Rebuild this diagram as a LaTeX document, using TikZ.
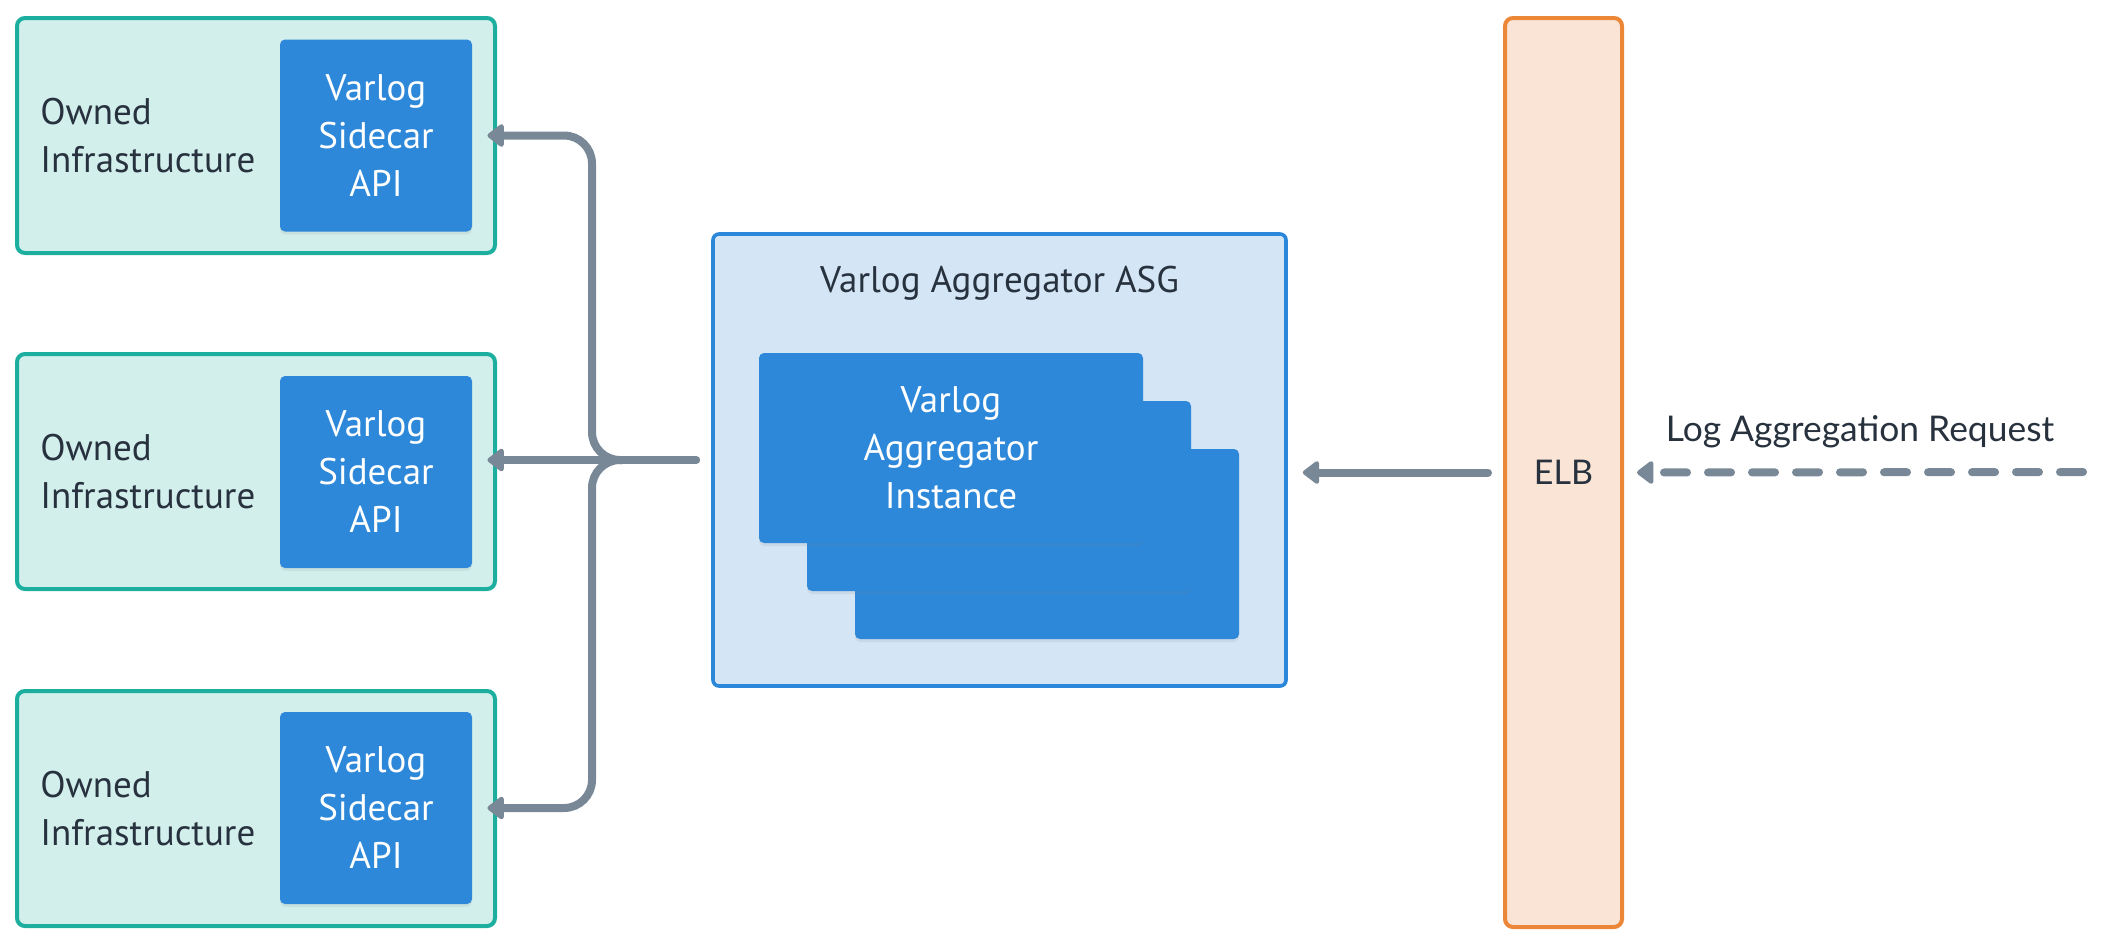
\documentclass[tikz,border=0pt]{standalone}
\usepackage{fontspec}
\setmainfont{PT Sans}
\newfontfamily\elbfont{Lato}
\usetikzlibrary{arrows.meta,shadows}

\definecolor{infrafill}{HTML}{D2EFEC}
\definecolor{infraline}{HTML}{1CAE9E}
\definecolor{apiblue}{HTML}{2D88D9}
\definecolor{asgfill}{HTML}{D4E5F5}
\definecolor{asgline}{HTML}{2B87DA}
\definecolor{elbfill}{HTML}{F9E4D6}
\definecolor{elbline}{HTML}{EB8737}
\definecolor{wire}{HTML}{788896}
\definecolor{ink}{HTML}{27323E}

\tikzset{
  infra/.style={draw=infraline, fill=infrafill, line width=2pt, rounded corners=4pt,
    minimum width=239pt, minimum height=117.5pt},
  api/.style={fill=apiblue, rounded corners=2.5pt, minimum width=96pt, minimum height=96pt,
    text=white, align=center, font=\fontsize{18.5}{24}\selectfont,
    drop shadow={opacity=0.12, shadow xshift=0pt, shadow yshift=-1.5pt}},
  inst/.style={fill=apiblue, rounded corners=2.5pt, minimum width=192pt, minimum height=95pt,
    text=white, align=center, font=\fontsize{18.5}{24}\selectfont,
    drop shadow={opacity=0.12, shadow xshift=0pt, shadow yshift=-1.5pt}},
  txt/.style={text=ink, font=\fontsize{18.5}{24}\selectfont},
  wire/.style={draw=wire, line width=4pt, line cap=round,
    -{Triangle[length=9pt, width=13pt, round]}},
}

\begin{document}
\begin{tikzpicture}[x=0.5pt, y=-0.5pt]
\useasboundingbox (0,0) rectangle (2104,944);

\node[infra] (infra1) at (256,135.5) {};
\node[infra] (infra2) at (256,471.5) {};
\node[infra] (infra3) at (256,808.5) {};
\node[txt, anchor=west, align=left, inner sep=0pt] (own1) at (40,136) {Owned\\Infrastructure};
\node[txt, anchor=west, align=left, inner sep=0pt] (own2) at (40,472) {Owned\\Infrastructure};
\node[txt, anchor=west, align=left, inner sep=0pt] (own3) at (40,809) {Owned\\Infrastructure};
\node[api] (api1) at (376,135.5) {Varlog\\Sidecar\\API};
\node[api] (api2) at (376,472) {Varlog\\Sidecar\\API};
\node[api] (api3) at (376,808) {Varlog\\Sidecar\\API};

\node[draw=asgline, fill=asgfill, line width=1.8pt, rounded corners=3pt,
  minimum width=286.5pt, minimum height=226pt] (asg) at (999.5,460) {};
\node[txt] (asgtitle) at (999.5,283) {Varlog Aggregator ASG};
\node[inst] (inst3) at (1047,544) {};
\node[inst] (inst2) at (999,496) {};
\node[inst] (inst1) at (951,448) {Varlog\\Aggregator\\Instance};

\node[draw=elbline, fill=elbfill, line width=2pt, rounded corners=4pt,
  minimum width=58.5pt, minimum height=454.5pt, text=ink,
  font=\elbfont\fontsize{17}{20}\selectfont] (elb) at (1563.5,472.5) {ELB};

\coordinate (split) at (592,460);
\coordinate (req) at (2083,472);

\draw[wire] ([xshift=-7.5pt]asg.west) -- ([xshift=7.5pt]api2.east |- asg.west);
\draw[wire, rounded corners=14pt] ([xshift=15pt]split) -| (split |- api1.east) -- ([xshift=7.5pt]api1.east);
\draw[wire, rounded corners=14pt] ([xshift=15pt]split) -| (split |- api3.east) -- ([xshift=7.5pt]api3.east);

\draw[wire] ([xshift=-7.5pt]elb.west) -- ([xshift=7.5pt]asg.east |- elb.west);
\draw[wire, dash pattern=on 11.5pt off 10.5pt] (req) -- node[above=7pt, text=ink,
  font=\elbfont\fontsize{17.7}{20}\selectfont] {Log Aggregation Request} ([xshift=6.5pt]elb.east);

\end{tikzpicture}
\end{document}
